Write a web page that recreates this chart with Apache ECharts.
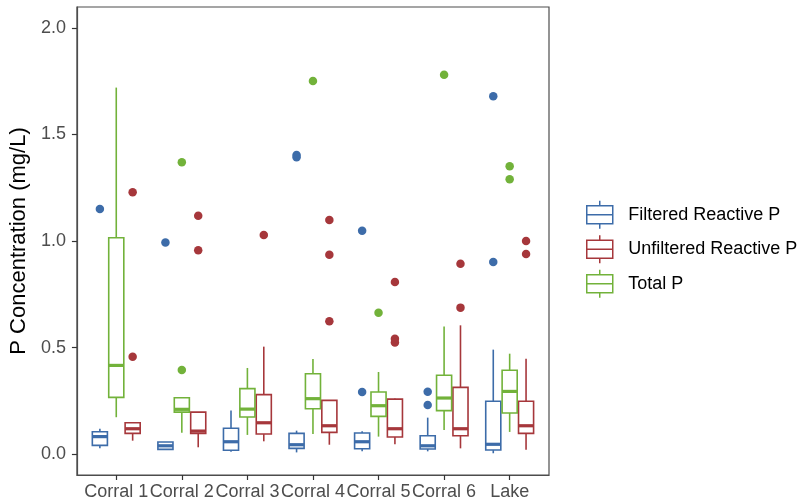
<!DOCTYPE html>
<html>
<head>
<meta charset="utf-8">
<script src="https://cdn.jsdelivr.net/npm/echarts@6/dist/echarts.min.js"></script>
<style>
html,body{margin:0;padding:0;background:#fff;}
#chart{width:803px;height:504px;}
</style>
</head>
<body>
<div id="chart"></div>
<script>
// ---- data ----
const groups = ['Corral 1','Corral 2','Corral 3','Corral 4','Corral 5','Corral 6','Lake'];
const yTicks = [0, 0.5, 1.0, 1.5, 2.0];
const seriesNames = ['Filtered Reactive P','Unfiltered Reactive P','Total P'];
// box stats per group: [lower whisker, Q1, median, Q3, upper whisker]
const filteredStats = [
  [0.028,0.042,0.083,0.106,0.120],
  [0.023,0.023,0.040,0.058,0.058],
  [0.012,0.019,0.059,0.122,0.206],
  [0.009,0.028,0.045,0.098,0.111],
  [0.014,0.026,0.059,0.100,0.108],
  [0.014,0.025,0.040,0.087,0.172],
  [0.005,0.020,0.047,0.249,0.491]
];
const filteredOutliers = [[1.151],[0.994],[],[1.404,1.393],[1.049,0.292],[0.294,0.231],[1.679,0.902]];
const unfilteredStats = [
  [0.064,0.098,0.120,0.148,0.148],
  [0.033,0.098,0.109,0.198,0.198],
  [0.061,0.095,0.148,0.280,0.505],
  [0.045,0.103,0.134,0.253,0.253],
  [0.047,0.081,0.120,0.259,0.262],
  [0.028,0.087,0.120,0.314,0.605],
  [0.022,0.098,0.134,0.249,0.448]
];
const unfilteredOutliers = [[1.229,0.458],[1.119,0.957],[1.029],[1.099,0.936,0.624],[0.808,0.542,0.525],[0.894,0.688],[1.000,0.940]];
const totalStats = [
  [0.174,0.267,0.417,1.016,1.720],
  [0.101,0.198,0.211,0.265,0.265],
  [0.091,0.175,0.212,0.308,0.405],
  [0.095,0.214,0.261,0.378,0.447],
  [0.083,0.178,0.228,0.292,0.386],
  [0.114,0.205,0.264,0.371,0.600],
  [0.105,0.194,0.295,0.394,0.472]
];
const totalOutliers = [[],[1.370,0.395],[],[1.751],[0.664],[1.780],[1.351,1.290]];

// ---- style ----
const colors = {'Filtered Reactive P':'#3D6CA9','Unfiltered Reactive P':'#A6373B','Total P':'#72B23A'};
const dodge = {'Filtered Reactive P':-0.25,'Total P':0,'Unfiltered Reactive P':0.25};
const boxW = 0.23;

function boxSeries(name, stats){
  const off = dodge[name], col = colors[name];
  return {
    name: name, type:'custom',
    itemStyle:{color:col, borderColor:col},
    data: stats.map((s,i)=>[i+1].concat(s)),
    encode:{x:0, y:[1,2,3,4,5]},
    renderItem: function(params, api){
      const x = api.value(0) + off;
      const lo=api.coord([x,api.value(1)]), q1=api.coord([x,api.value(2)]),
            md=api.coord([x,api.value(3)]), q3=api.coord([x,api.value(4)]),
            hi=api.coord([x,api.value(5)]);
      const half = api.size([boxW,0])[0]/2;
      const cx = lo[0];
      const ls = {stroke:col, lineWidth:1.6, fill:null};
      return {type:'group', children:[
        {type:'line', shape:{x1:cx,y1:hi[1],x2:cx,y2:q3[1]}, style:ls},
        {type:'line', shape:{x1:cx,y1:q1[1],x2:cx,y2:lo[1]}, style:ls},
        {type:'rect', shape:{x:cx-half,y:q3[1],width:2*half,height:q1[1]-q3[1]}, style:{stroke:col,lineWidth:1.6,fill:'#fff'}},
        {type:'line', shape:{x1:cx-half,y1:md[1],x2:cx+half,y2:md[1]}, style:{stroke:col,lineWidth:3.2}}
      ]};
    }
  };
}
function outlierSeries(name, outs){
  const off = dodge[name];
  const data = [];
  outs.forEach((arr,i)=>arr.forEach(v=>data.push([i+1+off, v])));
  return {name:name, type:'scatter', symbol:'circle', symbolSize:8.5,
    itemStyle:{color:colors[name], opacity:1}, data:data, z:3};
}

const iconPath = 'path://M13,0L13,5M0,5L26,5L26,23L0,23ZM0,14L26,14M13,23L13,28';

const chart = echarts.init(document.getElementById('chart'), null, {renderer:'canvas'});
chart.setOption({
  animation:false,
  backgroundColor:'#fff',
  textStyle:{fontFamily:'Liberation Sans, Arial, sans-serif'},
  grid:{left:76, right:254, top:7, bottom:29, show:true, borderColor:'#4d4d4d', borderWidth:1.2, backgroundColor:'#fff'},
  legend:{
    orient:'vertical', left:586, top:200, padding:0, itemWidth:27, itemHeight:28, itemGap:5,
    textStyle:{fontSize:18, color:'#000', padding:[0,0,0,10]},
    selectedMode:false,
    data: seriesNames.map(n=>({name:n, icon:iconPath, itemStyle:{color:'#fff', borderColor:colors[n], borderWidth:1.5}}))
  },
  xAxis:{
    type:'value', min:0.4, max:7.6,
    splitLine:{show:false},
    axisLine:{show:true, onZero:false, lineStyle:{color:'#4d4d4d', width:1.2}},
    axisTick:{show:true, length:5, lineStyle:{color:'#333', width:1.2}, customValues:[1,2,3,4,5,6,7]},
    axisLabel:{fontSize:18, color:'#4d4d4d', margin:8, customValues:[1,2,3,4,5,6,7],
      formatter:v=>groups[Math.round(v)-1]||''}
  },
  yAxis:{
    type:'value', min:-0.097, max:2.098,
    name:'P Concentration (mg/L)', nameLocation:'middle', nameRotate:90, nameGap:39,
    nameTextStyle:{fontSize:22, color:'#000'},
    splitLine:{show:false},
    axisLine:{show:true, onZero:false, lineStyle:{color:'#4d4d4d', width:1.2}},
    axisTick:{show:true, length:5, lineStyle:{color:'#333', width:1.2}, customValues:yTicks},
    axisLabel:{fontSize:18, color:'#4d4d4d', margin:11, customValues:yTicks,
      formatter:v=>v.toFixed(1)}
  },
  series:[
    boxSeries('Filtered Reactive P', filteredStats),
    boxSeries('Unfiltered Reactive P', unfilteredStats),
    boxSeries('Total P', totalStats),
    outlierSeries('Filtered Reactive P', filteredOutliers),
    outlierSeries('Unfiltered Reactive P', unfilteredOutliers),
    outlierSeries('Total P', totalOutliers)
  ]
});
</script>
</body>
</html>
